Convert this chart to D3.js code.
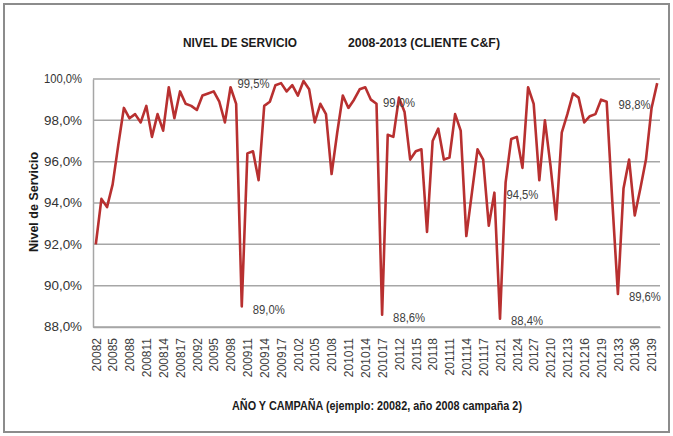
<!DOCTYPE html>
<html>
<head>
<meta charset="utf-8">
<script src="https://cdn.jsdelivr.net/npm/d3@7"></script>
<style>
  body { margin: 0; background: #fff; }
</style>
</head>
<body>
<div id="chart"></div>
<script>
// campaigns (year + campaign number)
var categories = [
    "20082","20083","20084","20085","20086","20087","20088","20089","200810","200811","200812","200813","200814","200815","200816","200817","200818",
    "20091","20092","20093","20094","20095","20096","20097","20098","20099","200910","200911","200912","200913","200914","200915","200916","200917","200918",
    "20101","20102","20103","20104","20105","20106","20107","20108","20109","201010","201011","201012","201013","201014","201015","201016","201017","201018",
    "20111","20112","20113","20114","20115","20116","20117","20118","20119","201110","201111","201112","201113","201114","201115","201116","201117","201118","201119",
    "20121","20122","20123","20124","20125","20126","20127","20128","20129","201210","201211","201212","201213","201214","201215","201216","201217","201218","201219",
    "20131","20132","20133","20134","20135","20136","20137","20138","20139","201310"
];

// nivel de servicio (%)
var values = [
    92.0, 94.2, 93.8, 94.9, 96.8, 98.6, 98.1, 98.3, 97.9, 98.7, 97.2, 98.3, 97.5, 99.6, 98.1, 99.4, 98.8,
    98.7, 98.5, 99.2, 99.3, 99.4, 98.9, 97.9, 99.6, 98.8, 89.0, 96.4, 96.5, 95.1, 98.7, 98.9, 99.7, 99.8, 99.4,
    99.7, 99.2, 99.9, 99.5, 97.9, 98.8, 98.3, 95.4, 97.4, 99.2, 98.6, 99.0, 99.5, 99.6, 99.0, 98.8, 88.6, 97.3,
    97.2, 99.1, 98.4, 96.1, 96.5, 96.6, 92.6, 97.0, 97.6, 96.1, 96.2, 98.3, 97.5, 92.4, 94.5, 96.6, 96.1, 92.9, 94.5,
    88.4, 95.0, 97.1, 97.2, 95.7, 99.6, 98.8, 95.1, 98.0, 95.8, 93.2, 97.4, 98.3, 99.3, 99.1, 97.9, 98.2, 98.3, 99.0,
    98.9, 94.1, 89.6, 94.7, 96.1, 93.4, 94.7, 96.1, 98.6, 99.8
];

// y axis ticks
var yTicks = [88, 90, 92, 94, 96, 98, 100];

// labelled points
var labelIndex = [24, 26, 54, 51, 71, 72, 99, 93];
var labelText = ["99,5%", "89,0%", "99,0%", "88,6%", "94,5%", "88,4%", "98,8%", "89,6%"];

var title1 = "NIVEL DE SERVICIO";
var title2 = "2008-2013 (CLIENTE C&F)";
var yTitle = "Nivel de Servicio";
var xTitle = "AÑO Y CAMPAÑA (ejemplo: 20082, año 2008 campaña 2)";

var W = 673, H = 436;
var margin = { top: 79, right: 13, bottom: 109, left: 93 },
    width = W - margin.left - margin.right,
    height = H - margin.top - margin.bottom;

var sans = "'Liberation Sans', Arial, sans-serif";
var fmt = function (v) { return v.toFixed(1).replace(".", ",") + "%"; };

var svg = d3.select("#chart")
    .append("svg")
    .attr("width", W)
    .attr("height", H);

// outer frame
svg.append("rect")
    .attr("x", 4).attr("y", 4)
    .attr("width", W - 8).attr("height", H - 8)
    .style("fill", "#fff")
    .style("stroke", "#8c8c8c")
    .style("stroke-width", 2);

var g = svg.append("g")
    .attr("transform", "translate(" + margin.left + "," + margin.top + ")");

var x = d3.scalePoint()
    .domain(categories)
    .range([0, width])
    .padding(0.5);

var y = d3.scaleLinear()
    .domain([88, 100])
    .range([height, 0]);

// gridlines
g.append("g")
    .selectAll("line")
    .data(yTicks)
    .enter()
    .append("line")
    .attr("x1", 0)
    .attr("x2", width)
    .attr("y1", function (d) { return y(d); })
    .attr("y2", function (d) { return y(d); })
    .style("stroke", "#a6a6a6")
    .style("stroke-width", 1.5);

// Y axis
var yAxis = g.append("g")
    .call(d3.axisLeft(y).tickValues(yTicks).tickSize(0).tickPadding(11).tickFormat(fmt));
yAxis.select(".domain").style("stroke", "#a6a6a6").style("stroke-width", 1.5);
yAxis.selectAll("text")
    .style("font-family", sans)
    .style("font-size", "12px")
    .style("fill", "#333")
    .attr("textLength", 38)
    .attr("lengthAdjust", "spacingAndGlyphs");

// X axis
var xAxis = g.append("g")
    .attr("transform", "translate(0," + height + ")")
    .call(d3.axisBottom(x)
        .tickValues(categories.filter(function (d, i) { return i % 3 === 0; }))
        .tickSize(0));
xAxis.select(".domain").style("stroke", "#a6a6a6").style("stroke-width", 1.5);
xAxis.selectAll("text")
    .attr("transform", "rotate(-90)")
    .attr("text-anchor", "end")
    .attr("x", -11)
    .attr("y", 0)
    .attr("dy", "0.35em")
    .style("font-family", sans)
    .style("font-size", "12px")
    .style("fill", "#404040");

// line
var line = d3.line()
    .x(function (d, i) { return x(categories[i]); })
    .y(function (d) { return y(d); });

g.append("path")
    .datum(values)
    .attr("d", line)
    .style("fill", "none")
    .style("stroke", "#b83030")
    .style("stroke-width", 2.6)
    .style("stroke-linejoin", "round");

// data labels
var labelDx = [7, 11, -16, 11, 12, 11, -1, 11];
var labelDy = [-3, 3, 5, 3, 2, 2, -3, 3];
g.append("g")
    .selectAll("text")
    .data(labelIndex)
    .enter()
    .append("text")
    .attr("x", function (d, k) { return x(categories[d]) + labelDx[k]; })
    .attr("y", function (d, k) { return y(values[d]) + labelDy[k]; })
    .attr("dy", "0.35em")
    .attr("text-anchor", function (d, k) { return k === 6 ? "end" : "start"; })
    .text(function (d, k) { return labelText[k]; })
    .style("font-family", sans)
    .style("font-size", "12px")
    .style("fill", "#404040")
    .attr("textLength", 32)
    .attr("lengthAdjust", "spacingAndGlyphs");

// titles
svg.append("text")
    .attr("x", 240).attr("y", 42)
    .attr("dy", "0.35em")
    .attr("text-anchor", "middle")
    .text(title1)
    .style("font-family", sans)
    .style("font-weight", "bold")
    .style("font-size", "13px")
    .style("fill", "#1a1a1a")
    .attr("textLength", 114)
    .attr("lengthAdjust", "spacingAndGlyphs");

svg.append("text")
    .attr("x", 424).attr("y", 42)
    .attr("dy", "0.35em")
    .attr("text-anchor", "middle")
    .text(title2)
    .style("font-family", sans)
    .style("font-weight", "bold")
    .style("font-size", "13px")
    .style("fill", "#1a1a1a")
    .attr("textLength", 152)
    .attr("lengthAdjust", "spacingAndGlyphs");

svg.append("text")
    .attr("transform", "translate(34," + (margin.top + height / 2 - 1) + ") rotate(-90)")
    .attr("dy", "0.35em")
    .attr("text-anchor", "middle")
    .text(yTitle)
    .style("font-family", sans)
    .style("font-weight", "bold")
    .style("font-size", "12.5px")
    .style("fill", "#1a1a1a");

svg.append("text")
    .attr("x", 377).attr("y", 406)
    .attr("dy", "0.35em")
    .attr("text-anchor", "middle")
    .text(xTitle)
    .style("font-family", sans)
    .style("font-weight", "bold")
    .style("font-size", "12.5px")
    .style("fill", "#1a1a1a")
    .attr("textLength", 290)
    .attr("lengthAdjust", "spacingAndGlyphs");
</script>
</body>
</html>
